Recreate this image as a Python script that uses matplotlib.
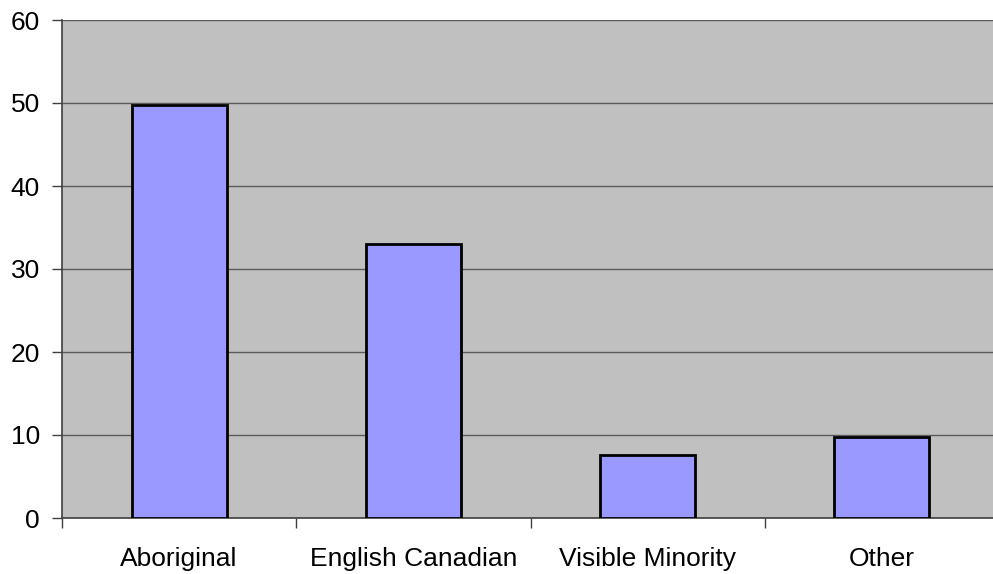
import matplotlib
matplotlib.use("Agg")
import matplotlib.pyplot as plt
from matplotlib.ticker import FixedLocator, NullFormatter

categories = ["Aboriginal", "English Canadian", "Visible Minority", "Other"]
values = [49.7, 33.0, 7.6, 9.7]
yticks = [0, 10, 20, 30, 40, 50, 60]

plt.rcParams['font.family'] = ['Liberation Sans', 'DejaVu Sans']

W, H = 993, 574
fig = plt.figure(figsize=(W / 100, H / 100), dpi=100)
ax = fig.add_axes([62 / W, 56 / H, 937 / W, 498 / H])
ax.set_facecolor('#C0C0C0')

x = list(range(len(categories)))
ax.bar(x, values, width=0.405, color='#9999FF', edgecolor='black', linewidth=2, zorder=3)

ax.set_xlim(-0.5, len(categories) - 0.5)
ax.set_ylim(0, 60)
ax.set_yticks(yticks)
ax.set_yticklabels([str(t) for t in yticks], fontsize=19)
ax.yaxis.grid(True, color='#5a5a5a', linewidth=1, zorder=1)
ax.set_axisbelow(True)

ax.set_xticks(x)
ax.set_xticklabels(categories, fontsize=19)
ax.tick_params(axis='x', which='major', length=0, pad=21)
ax.xaxis.set_minor_locator(FixedLocator([i - 0.5 for i in range(len(categories) + 1)]))
ax.xaxis.set_minor_formatter(NullFormatter())
ax.tick_params(axis='x', which='minor', length=7, width=1, color='#404040', direction='out')
ax.tick_params(axis='y', length=7, width=1, color='#404040', direction='out', pad=9)

for s in ['top', 'right']:
    ax.spines[s].set_visible(False)
for s in ['left', 'bottom']:
    ax.spines[s].set_color('#404040')
    ax.spines[s].set_linewidth(1.2)

fig.savefig('out.png', dpi=100)
